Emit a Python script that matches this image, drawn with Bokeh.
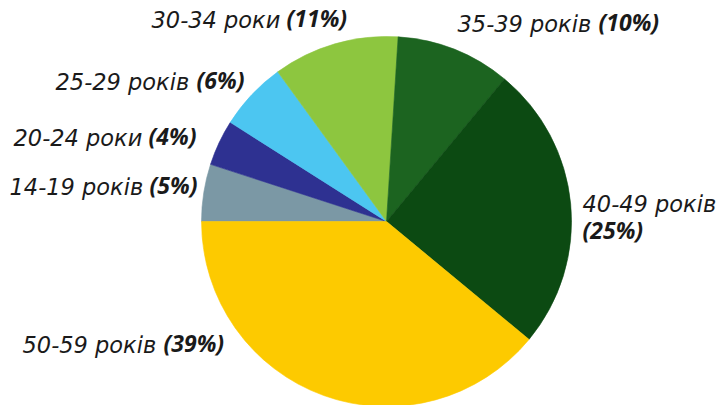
import math
from bokeh.plotting import figure
from bokeh.models import Range1d, ColumnDataSource
from bokeh.core.properties import value
from bokeh.embed import file_html
from bokeh.resources import INLINE

# ---- data ----
categories = ["14-19 років", "20-24 роки", "25-29 років", "30-34 роки",
              "35-39 років", "40-49 років", "50-59 років"]
shares = [5, 4, 6, 11, 10, 25, 39]
colors = ["#7b98a5", "#2e3191", "#4cc6f1", "#8dc63f", "#1c6420", "#0c4a12", "#fdca00"]

# ---- layout (page pixel positions of labels: left x, baseline y) ----
label_pos = [(9, 195), (13, 146), (55, 90), (151, 28), (457, 32), (582, 212), (22, 353)]
pct_pos = [(149, 195), (148, 146), (196, 90), (286, 28), (598, 32), (582, 240), (163, 353)]
REG_SHIFT = 9    # baseline correction for rendered regular text (px, upward)
BOLD_SHIFT = 11  # baseline correction for rendered bold text (px, upward)

W, H = 725, 405
PAGE_H = 405
cx, cy, r = 386, PAGE_H - 221, 185

total = float(sum(shares))
starts, ends = [], []
cum = 0.0
for s in shares:
    starts.append(math.pi - 2 * math.pi * cum / total)
    cum += s
    ends.append(math.pi - 2 * math.pi * cum / total)

src = ColumnDataSource(dict(start=starts, end=ends, color=colors, cat=categories, share=shares))

p = figure(width=W, height=H, output_backend="svg", toolbar_location=None,
           x_range=Range1d(0, W), y_range=Range1d(PAGE_H - H, PAGE_H),
           min_border=0, outline_line_color=None, background_fill_color="white",
           border_fill_color="white")
p.xaxis.visible = False
p.yaxis.visible = False
p.grid.visible = False

p.wedge(x=cx, y=cy, radius=r, start_angle="start", end_angle="end", direction="clock",
        fill_color="color", line_color="color", line_width=0.6, source=src)

lab_src = ColumnDataSource(dict(x=[q[0] for q in label_pos],
                                y=[PAGE_H - q[1] + REG_SHIFT for q in label_pos],
                                t=categories))
pct_src = ColumnDataSource(dict(x=[q[0] for q in pct_pos],
                                y=[PAGE_H - q[1] + BOLD_SHIFT for q in pct_pos],
                                t=["(%d%%)" % s for s in shares]))
p.text(x="x", y="y", text="t", source=lab_src, text_font=value("DejaVu Sans"),
       text_font_size="22.5px", text_font_style="italic", text_color="#1a1a1a",
       text_align="left", text_baseline="alphabetic")
p.text(x="x", y="y", text="t", source=pct_src, text_font=value("Open Sans"),
       text_font_size="23px", text_font_style="bold italic", text_color="#1a1a1a",
       text_align="left", text_baseline="alphabetic")

open("out.html", "w").write(file_html(p, INLINE))
